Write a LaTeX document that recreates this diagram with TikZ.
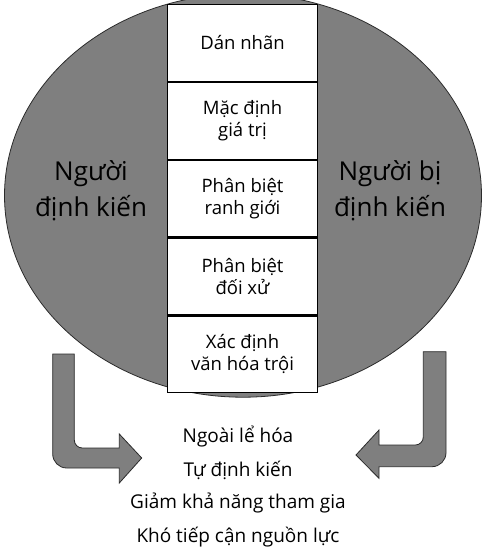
\documentclass[tikz,border=0pt]{standalone}
\usepackage{fontspec}
\setmainfont{Open Sans}
\definecolor{shade}{HTML}{7F7F7F}
\definecolor{edge}{HTML}{2B2B2B}
\tikzset{
  blob/.style={fill=shade, draw=edge, line width=0.8pt},
  boxcell/.style={draw=black, fill=white, line width=1.2pt, minimum width=150pt, minimum height=76.6pt, inner sep=0pt, align=center, font=\fontsize{18.5}{22}\selectfont},
  sidetext/.style={align=center, inner sep=0pt, font=\fontsize{26}{36}\selectfont},
  outtext/.style={inner sep=0pt, font=\fontsize{19}{22}\selectfont},
  bigarrow/.style={fill=shade, draw=edge, line width=0.8pt, line join=miter}
}
\begin{document}
\begin{tikzpicture}[x=1pt,y=-1pt]
\useasboundingbox (0,0) rectangle (482,551);
% ellipse
\path[blob] (243,195.5) ellipse [x radius=238.5, y radius=201.7];
% stack of boxes
\node[boxcell] (b1) at (242.5,43)    {Dán nhãn};
\node[boxcell, anchor=north] (b2) at (b1.south) {Mặc định\\giá trị};
\node[boxcell, anchor=north] (b3) at (b2.south) {Phân biệt\\ranh giới};
\node[boxcell, anchor=north] (b4) at (b3.south) {Phân biệt\\đối xử};
\node[boxcell, anchor=north] (b5) at (b4.south) {Xác định\\văn hóa trội};
% side labels
\node[sidetext] (left) at (91,191) {Người\\định kiến};
\node[sidetext] (right) at (390,191) {Người bị\\định kiến};
% arrows
\path[bigarrow] (52.7,354) -- (74.3,354) -- (74.3,440)
  arc[start angle=180, end angle=90, radius=8] -- (119.3,448) -- (119.3,434)
  -- (141.7,458) -- (119.3,483) -- (119.3,468) -- (66.7,468)
  arc[start angle=90, end angle=180, radius=14] -- cycle;
\path[bigarrow] (423.3,351.7) -- (446,351.7) -- (446,452.7)
  arc[start angle=0, end angle=90, radius=14] -- (379,466.7) -- (379,478.3)
  -- (356,455) -- (379,430) -- (379,445) -- (415.3,445)
  arc[start angle=90, end angle=0, radius=8] -- cycle;
% outcomes
\node[outtext] (o1) at (238,437) {Ngoài lể hóa};
\node[outtext] (o2) at (238,470) {Tự định kiến};
\node[outtext] (o3) at (238,503) {Giảm khả năng tham gia};
\node[outtext] (o4) at (238,537) {Khó tiếp cận nguồn lực};
\end{tikzpicture}
\end{document}
